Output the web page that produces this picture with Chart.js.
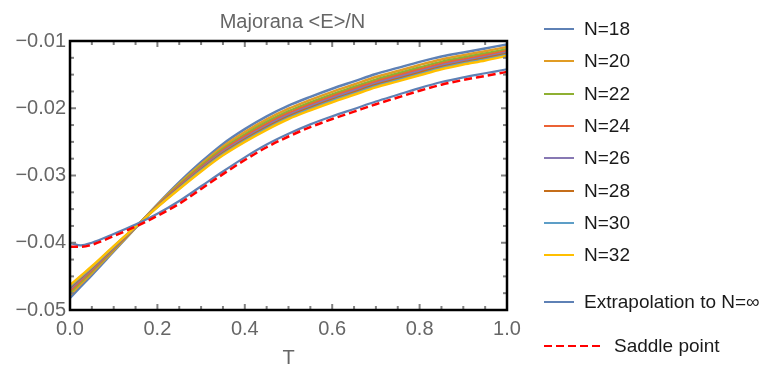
<!DOCTYPE html>
<html>
<head>
<meta charset="utf-8">
<script src="https://cdn.jsdelivr.net/npm/chart.js@4.4.1/dist/chart.umd.min.js"></script>
<style>
  body { margin: 0; background: #fff; }
  #wrap { position: relative; width: 768px; height: 365px; font-family: "Liberation Sans", Arial, sans-serif; }
  #plot { position: absolute; left: 0; top: 0; }
  #title { position: absolute; left: 70px; width: 445px; top: 11px; line-height: 20px; font-size: 20px; color: #666; text-align: center; }
  #legend { position: absolute; left: 544px; top: 13px; font-size: 19px; color: #1a1a1a; }
  .item { height: 32.3px; display: flex; align-items: center; white-space: nowrap; }
  .item svg { margin-right: 10px; }
  .item.extra { margin-top: 14px; }
  .item.saddle { margin-top: 12px; }
  .item.saddle svg { margin-right: 13px; }
</style>
</head>
<body>
<div id="wrap">
  <canvas id="plot" width="768" height="365"></canvas>
  <div id="title">Majorana &lt;E&gt;/N</div>
  <div id="legend"></div>
</div>
<script>
// temperature grid
const T = [0, 0.025, 0.05, 0.1, 0.15, 0.2, 0.25, 0.3, 0.35, 0.4, 0.45, 0.5, 0.55, 0.6, 0.65, 0.7, 0.75, 0.8, 0.85, 0.9, 0.95, 1.0];

// <E>/N for each system size
const N18 = [-0.0482, -0.0465, -0.0448, -0.0413, -0.0378, -0.0343, -0.0310, -0.0280, -0.0253, -0.0231, -0.0212, -0.0196, -0.0183, -0.0171, -0.0160, -0.0149, -0.0140, -0.0131, -0.0123, -0.0117, -0.0111, -0.0105];
const N20 = [-0.04776, -0.04613, -0.04450, -0.04112, -0.03775, -0.03439, -0.03123, -0.02832, -0.02569, -0.02354, -0.02166, -0.02006, -0.01876, -0.01756, -0.01646, -0.01536, -0.01446, -0.01356, -0.01274, -0.01211, -0.01151, -0.01089];
const N22 = [-0.04740, -0.04583, -0.04425, -0.04096, -0.03772, -0.03447, -0.03142, -0.02859, -0.02601, -0.02390, -0.02204, -0.02044, -0.01914, -0.01794, -0.01684, -0.01574, -0.01484, -0.01394, -0.01310, -0.01246, -0.01186, -0.01121];
const N24 = [-0.04712, -0.04559, -0.04406, -0.04084, -0.03769, -0.03453, -0.03157, -0.02880, -0.02627, -0.02418, -0.02234, -0.02074, -0.01944, -0.01824, -0.01714, -0.01604, -0.01514, -0.01424, -0.01338, -0.01273, -0.01213, -0.01147];
const N26 = [-0.04687, -0.04538, -0.04389, -0.04074, -0.03766, -0.03458, -0.03170, -0.02898, -0.02649, -0.02443, -0.02260, -0.02100, -0.01970, -0.01850, -0.01740, -0.01630, -0.01540, -0.01450, -0.01363, -0.01296, -0.01236, -0.01169];
const N28 = [-0.04664, -0.04519, -0.04373, -0.04064, -0.03764, -0.03463, -0.03182, -0.02915, -0.02669, -0.02466, -0.02284, -0.02124, -0.01994, -0.01874, -0.01764, -0.01654, -0.01564, -0.01474, -0.01386, -0.01318, -0.01258, -0.01189];
const N30 = [-0.04647, -0.04504, -0.04362, -0.04057, -0.03762, -0.03466, -0.03191, -0.02927, -0.02685, -0.02483, -0.02302, -0.02142, -0.02012, -0.01892, -0.01782, -0.01672, -0.01582, -0.01492, -0.01403, -0.01334, -0.01274, -0.01205];
const N32 = [-0.04630, -0.04490, -0.04350, -0.04050, -0.03760, -0.03470, -0.03200, -0.02940, -0.02700, -0.02500, -0.02320, -0.02160, -0.02030, -0.01910, -0.01800, -0.01690, -0.01600, -0.01510, -0.01420, -0.01350, -0.01290, -0.01220];
const extrap = [-0.0400, -0.0404, -0.0400, -0.0387, -0.0373, -0.0357, -0.0338, -0.0316, -0.0294, -0.0273, -0.0254, -0.0238, -0.0224, -0.0212, -0.0201, -0.0190, -0.0180, -0.0170, -0.0161, -0.0154, -0.0148, -0.0142];
const saddle = [-0.0406, -0.0406, -0.0403, -0.0390, -0.0376, -0.0360, -0.0342, -0.0320, -0.0298, -0.0277, -0.0258, -0.0242, -0.0228, -0.0216, -0.0205, -0.0194, -0.0184, -0.0174, -0.0165, -0.0158, -0.0152, -0.0146];

const sizeLabels = ["N=18", "N=20", "N=22", "N=24", "N=26", "N=28", "N=30", "N=32"];
const sizeSeries = [N18, N20, N22, N24, N26, N28, N30, N32];
const sizeColors = ["#5E81B5", "#E19C24", "#8FB032", "#EB6235", "#8778B3", "#C56E1A", "#5D9EC7", "#FFBF00"];

const xTicks = [0, 0.2, 0.4, 0.6, 0.8, 1.0];
const yTicks = [-0.05, -0.04, -0.03, -0.02, -0.01];

const toPoints = (ys) => T.map((t, i) => ({ x: t, y: ys[i] }));

let datasets = sizeSeries.map((ys, i) => ({
  label: sizeLabels[i],
  data: toPoints(ys),
  borderColor: sizeColors[i],
  borderWidth: 2.5,
}));
datasets.push({ label: "Extrapolation to N=∞", data: toPoints(extrap), borderColor: "#5E81B5", borderWidth: 2.2 });
datasets.push({ label: "Saddle point", data: toPoints(saddle), borderColor: "#FF0000", borderWidth: 2.5, borderDash: [8, 4] });
// later curves on top, like Mathematica
datasets.forEach((d, i) => {
  d.order = datasets.length - i;
  d.pointRadius = 0;
  d.fill = false;
  d.cubicInterpolationMode = "monotone";
});

// frame with inward ticks on all four sides
const frameTicks = {
  id: "frameTicks",
  afterDraw(chart) {
    const { ctx, chartArea: a, scales: { x, y } } = chart;
    ctx.save();
    ctx.strokeStyle = "#808080";
    ctx.lineWidth = 2;
    const seg = (x1, y1, x2, y2) => { ctx.beginPath(); ctx.moveTo(x1, y1); ctx.lineTo(x2, y2); ctx.stroke(); };
    for (let i = 0; i <= 20; i++) {
      const px = x.getPixelForValue(i * 0.05);
      const len = i % 4 === 0 ? 6 : 4;
      seg(px, a.bottom, px, a.bottom - len);
      seg(px, a.top, px, a.top + len);
    }
    for (let i = 0; i <= 16; i++) {
      const py = y.getPixelForValue(-0.05 + i * 0.0025);
      const len = i % 4 === 0 ? 6 : 4;
      seg(a.left, py, a.left + len, py);
      seg(a.right, py, a.right - len, py);
    }
    ctx.strokeStyle = "#000";
    ctx.lineWidth = 2.5;
    ctx.strokeRect(a.left, a.top, a.right - a.left, a.bottom - a.top);
    ctx.restore();
  },
};

const tickFont = { family: "'Liberation Sans', Arial, sans-serif", size: 20 };

new Chart(document.getElementById("plot"), {
  type: "line",
  data: { datasets },
  plugins: [frameTicks],
  options: {
    responsive: false,
    animation: false,
    devicePixelRatio: 1,
    layout: { padding: { left: 0, right: 261, top: 41, bottom: 0 } },
    plugins: { legend: { display: false }, tooltip: { enabled: false }, title: { display: false } },
    scales: {
      x: {
        type: "linear",
        min: 0,
        max: 1,
        afterBuildTicks: (s) => { s.ticks = xTicks.map((v) => ({ value: v })); },
        afterFit: (s) => { s.height = 55; },
        grid: { display: false, drawTicks: false },
        border: { display: false },
        ticks: { font: tickFont, color: "#666", padding: 7, maxRotation: 0, callback: (v) => v.toFixed(1) },
        title: { display: true, text: "T", font: { ...tickFont, lineHeight: 0.7 }, color: "#666", padding: { top: 0, bottom: 0 } },
      },
      y: {
        type: "linear",
        min: -0.05,
        max: -0.01,
        afterBuildTicks: (s) => { s.ticks = yTicks.map((v) => ({ value: v })); },
        afterFit: (s) => { s.width = 70; },
        grid: { display: false, drawTicks: false },
        border: { display: false },
        ticks: { font: tickFont, color: "#666", padding: 4, callback: (v) => "\u2212" + Math.abs(v).toFixed(2) },
      },
    },
  },
});

// legend
const legend = document.getElementById("legend");
const addItem = (label, color, cls, dashed) => {
  const w = dashed ? 57 : 30;
  const row = document.createElement("div");
  row.className = "item" + (cls ? " " + cls : "");
  row.innerHTML =
    `<svg width="${w}" height="4"><line x1="0" y1="2" x2="${w}" y2="2" stroke="${color}" stroke-width="2"` +
    (dashed ? ` stroke-dasharray="8 4"` : "") + `/></svg><span></span>`;
  row.querySelector("span").textContent = label;
  legend.appendChild(row);
};
sizeLabels.forEach((l, i) => addItem(l, sizeColors[i]));
addItem("Extrapolation to N=∞", "#5E81B5", "extra");
addItem("Saddle point", "#FF0000", "saddle", true);
</script>
</body>
</html>
